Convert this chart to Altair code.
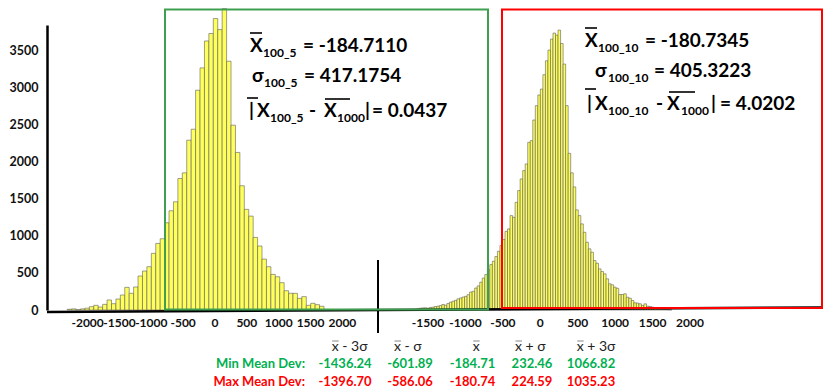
import altair as alt
import pandas as pd

# ---------------- data ----------------
LEFT_COUNTS = [10, 15, 5, 15, 25, 45, 63, 40, 76, 135, 85, 148, 202, 305, 225,
               310, 458, 525, 583, 763, 897, 960, 1175, 1337, 1458, 1772, 1848,
               2288, 2436, 2961, 3262, 3625, 3725, 3927, 3778, 4061, 3352, 2490,
               2123, 1674, 1356, 1265, 978, 862, 686, 583, 480, 448, 368, 260,
               225, 225, 157, 180, 63, 90, 72, 50]
LEFT_BIN_START = -2320.0
LEFT_BIN_WIDTH = 69.5
LEFT_TICKS = [-2000, -1500, -1000, -500, 0, 500, 1000, 1500, 2000]

RIGHT_COUNTS = [3, 0, 2, 3, 5, 8, 10, 15,
                24, 28, 30, 24, 34, 38, 47, 51, 60, 74, 65, 87, 105, 118, 130,
                150, 162, 175, 184, 206, 242, 252, 296, 325, 375, 430, 477, 545,
                612, 657, 720, 791, 868, 949,
                1060, 1093, 1272, 1249, 1451, 1609, 1766, 1878, 1968, 2259, 2282,
                2560, 2753, 2897, 2977, 3170, 3358, 3502, 3650, 3731, 3704, 3771,
                3591, 3314, 2753, 2111,
                1848, 1658, 1349, 1272, 1160, 1047, 913, 824, 778, 666, 630, 554,
                518, 487, 420, 353, 339, 307, 293, 209, 209, 218, 172, 159, 128,
                97, 93, 83, 61, 83, 51, 47, 38, 29, 25, 15,
                12, 8, 5, 3]
RIGHT_BIN_START = -1889.0
RIGHT_BIN_WIDTH = 33.75
RIGHT_TICKS = [-1500, -1000, -500, 0, 500, 1000, 1500, 2000]

Y_TICKS = [0, 500, 1000, 1500, 2000, 2500, 3000, 3500]

STAT_HEADERS = ["x - 3σ", "x - σ", "x", "x + σ", "x + 3σ"]
MIN_ROW = ["-1436.24", "-601.89", "-184.71", "232.46", "1066.82"]
MAX_ROW = ["-1396.70", "-586.06", "-180.74", "224.59", "1035.23"]

# ---------------- layout ----------------
W, H = 776, 285
OX, OY = 47, 25          # page position of the plot origin
FONT = "Lato"


def px(v):
    return v - OX


def py(v):
    return v - OY


# pixel anchors of the two independent x scales (value 0 position, px per unit)
L_ZERO, L_K = 215 - OX, 0.0637
R_ZERO, R_K = 540.3 - OX, 0.07486
left_scale = alt.Scale(domain=[-L_ZERO / L_K, (W - L_ZERO) / L_K], nice=False, zero=False)
right_scale = alt.Scale(domain=[-R_ZERO / R_K, (W - R_ZERO) / R_K], nice=False, zero=False)
y_scale = alt.Scale(domain=[0, 3840], nice=False)
y_axis = alt.Axis(values=Y_TICKS, format="d", grid=False, ticks=False, domainColor="black",
                  domainWidth=2.5, labelFont=FONT, labelFontWeight="bold",
                  labelFontSize=12.5, labelColor="#111111", labelPadding=9, title=None)

bar_style = dict(color="#ffff5c", stroke="#5e5e5e", strokeWidth=0.6)


def hist_layer(counts, start, width, scale, ticks):
    df = pd.DataFrame({"x0": [start + i * width for i in range(len(counts))],
                       "count": counts})
    df["x1"] = df["x0"] + width
    bars = alt.Chart(df).mark_rect(**bar_style).encode(
        x=alt.X("x0:Q", scale=scale, axis=None),
        x2="x1:Q",
        y=alt.Y("count:Q", scale=y_scale, axis=y_axis),
        y2=alt.datum(0),
    )
    tdf = pd.DataFrame({"tick": ticks, "label": [str(t) for t in ticks]})
    labels = alt.Chart(tdf).mark_text(font=FONT, fontWeight="bold", fontSize=12,
                                      color="#111111", baseline="middle").encode(
        x=alt.X("tick:Q", scale=scale, axis=None),
        y=alt.value(py(323)),
        text="label:N",
    )
    return alt.layer(bars, labels)


left_layer = hist_layer(LEFT_COUNTS, LEFT_BIN_START, LEFT_BIN_WIDTH, left_scale, LEFT_TICKS)
right_layer = hist_layer(RIGHT_COUNTS, RIGHT_BIN_START, RIGHT_BIN_WIDTH, right_scale, RIGHT_TICKS)

one = pd.DataFrame({"k": [0]})


def rect_box(x1, y1, x2, y2, color):
    return alt.Chart(one).mark_rect(filled=False, stroke=color, strokeWidth=2).encode(
        x=alt.value(px(x1)), x2=alt.value(px(x2)), y=alt.value(py(y1)), y2=alt.value(py(y2)))


def line(x1, y1, x2, y2, width, color="black"):
    return alt.Chart(one).mark_rule(color=color, strokeWidth=width).encode(
        x=alt.value(px(x1)), x2=alt.value(px(x2)), y=alt.value(py(y1)), y2=alt.value(py(y2)))


def text_layer(rows, align="left", weight="bold"):
    df = pd.DataFrame(rows, columns=["text", "x", "y", "size", "color"])
    df["x"] = df["x"] - OX
    df["y"] = df["y"] - OY
    return alt.Chart(df).mark_text(align=align, baseline="alphabetic", font=FONT,
                                   fontWeight=weight).encode(
        x=alt.X("x:Q", scale=None),
        y=alt.Y("y:Q", scale=None),
        size=alt.Size("size:Q", scale=None, legend=None),
        color=alt.Color("color:N", scale=None, legend=None),
        text="text:N",
    )


def seg_layer(rows, color, width):
    df = pd.DataFrame(rows, columns=["a", "b", "y"])
    df["a"] = df["a"] - OX
    df["b"] = df["b"] - OX
    df["y"] = df["y"] - OY
    return alt.Chart(df).mark_rule(color=color, strokeWidth=width).encode(
        x=alt.X("a:Q", scale=None), x2="b:Q", y=alt.Y("y:Q", scale=None))


K = "#000000"
BIG, SUB = 19, 12
annot = text_layer([
    ("X", 250, 52, BIG, K), ("100_5", 263, 57, SUB, K), ("= -184.7110", 303, 52, BIG, K),
    ("σ", 252, 82, BIG, K), ("100_5", 264, 87, SUB, K), ("= 417.1754", 304, 82, BIG, K),
    ("|", 249, 117, BIG, K), ("X", 257, 117, BIG, K), ("100_5", 270, 122, SUB, K),
    ("-", 309, 117, BIG, K), ("X", 324, 117, BIG, K), ("1000", 337, 122, SUB, K),
    ("|", 365, 117, BIG, K), ("= 0.0437", 372, 117, BIG, K),
    ("X", 585, 47, BIG, K), ("100_10", 598, 52, SUB, K), ("= -180.7345", 645, 47, BIG, K),
    ("σ", 595, 77, BIG, K), ("100_10", 608, 82, SUB, K), ("= 405.3223", 654, 77, BIG, K),
    ("|", 587, 110, BIG, K), ("X", 595, 110, BIG, K), ("100_10", 608, 115, SUB, K),
    ("-", 656, 110, BIG, K), ("X", 667, 110, BIG, K), ("1000", 681, 115, SUB, K),
    ("|", 711, 110, BIG, K), ("= 4.0202", 720, 110, BIG, K),
])
overbars = seg_layer([
    (250, 262, 33), (247, 258, 98), (325, 350, 99),
    (585, 597, 28), (585, 596, 89), (669, 695, 92),
], "black", 1.6)

GREEN, RED = "#00b050", "#ff0000"
HEAD_X = [331.7, 394, 472.7, 515, 576.7]
VAL_X = [345, 410, 472.5, 532, 591]
header = text_layer([(h, x, 351, 14, "#222222") for h, x in zip(STAT_HEADERS, HEAD_X)],
                    weight="normal")
header_bars = seg_layer([(x + 0.5, x + 7, 341) for x in HEAD_X], "#888888", 1)
row_labels = text_layer([("Min Mean Dev:", 305, 368, 13, GREEN),
                         ("Max Mean Dev:", 305, 386, 13, RED)], align="right")
row_values = text_layer([(v, x, 368, 13, GREEN) for v, x in zip(MIN_ROW, VAL_X)]
                        + [(v, x, 386, 13, RED) for v, x in zip(MAX_ROW, VAL_X)],
                        align="center")

chart = alt.layer(
    left_layer, right_layer,
    line(47, 312, 823, 307.5, 2.5),
    line(378, 260, 378, 333, 2),
    rect_box(165, 9.5, 488, 309.5, "#3f9f50"),
    rect_box(502, 9.5, 822, 308, RED),
    annot, overbars, header, header_bars, row_labels, row_values,
).resolve_scale(x="independent").properties(
    width=W, height=H,
    padding={"left": 39, "top": 17, "right": 0, "bottom": 78},
    autosize=alt.AutoSizeParams(type="none"),
).configure_view(stroke=None)

chart.save("out.html", embed_options={"renderer": "svg", "actions": False})
